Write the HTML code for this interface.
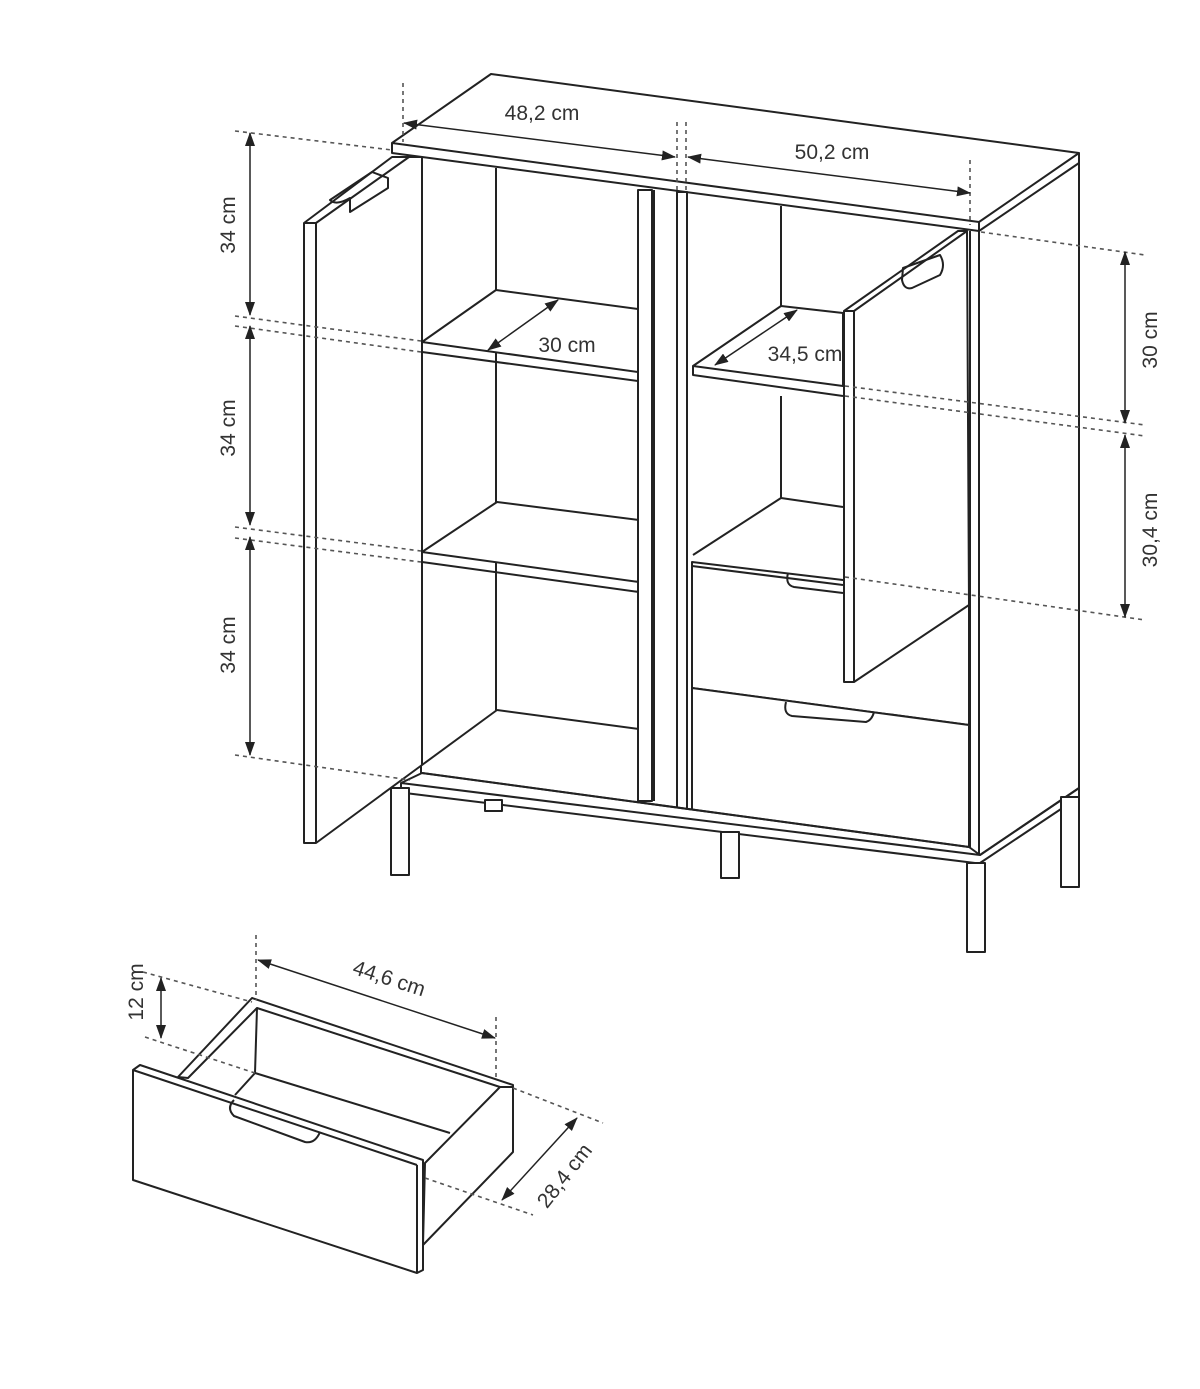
<!DOCTYPE html>
<html><head><meta charset="utf-8"><style>
html,body{margin:0;padding:0;background:#fff;}
svg{display:block;}
.l{stroke:#222;stroke-width:2;fill:none;stroke-linejoin:round;}
.f{stroke:#222;stroke-width:2;fill:#fff;stroke-linejoin:round;}
.d{stroke:#555;stroke-width:1.6;fill:none;stroke-dasharray:4 4;}
.a{stroke:#222;stroke-width:1.5;fill:none;marker-start:url(#ah);marker-end:url(#ah);}
text{font-family:"Liberation Sans",sans-serif;font-size:21px;fill:#333;}
</style></head><body>
<svg width="1200" height="1389" viewBox="0 0 1200 1389" xmlns="http://www.w3.org/2000/svg">
<defs><marker id="ah" markerWidth="14" markerHeight="10" refX="13" refY="5" orient="auto-start-reverse" markerUnits="userSpaceOnUse"><path d="M0,0 L14,5 L0,10 z" fill="#222"/></marker></defs>

<!-- top -->
<polygon class="f" points="392,143 491,74 1079,153 979,222"/>
<polyline class="l" points="392,143 392,153 979,231 979,222"/>
<polyline class="l" points="979,231 1079,163 1079,153"/>
<!-- right side -->
<line class="l" x1="979" y1="231" x2="979" y2="855"/>
<line class="l" x1="970" y1="231" x2="970" y2="850"/>
<line class="l" x1="1079" y1="163" x2="1079" y2="790"/>
<!-- left inner side -->
<line class="l" x1="421" y1="157" x2="421" y2="773"/>
<line class="l" x1="496" y1="168" x2="496" y2="710"/>
<!-- left shelves -->
<polygon class="f" points="496,290 638,309 638,372 422,342"/>
<polyline class="l" points="422,342 422,352 638,381"/>
<polygon class="f" points="497,502 639,520 639,582 422,552"/>
<polyline class="l" points="422,552 422,562 639,592"/>
<polyline class="l" points="497,710 639,729"/>
<polyline class="l" points="497,710 422,765"/>
<!-- center stiles -->
<rect class="f" x="638" y="190" width="14" height="611"/>
<line class="l" x1="654" y1="190" x2="654" y2="801"/>
<rect class="f" x="677" y="192" width="10" height="621"/>
<!-- right compartment -->
<line class="l" x1="781" y1="206" x2="781" y2="306"/>
<line class="l" x1="781" y1="396" x2="781" y2="498"/>
<polygon class="f" points="781,306 843,313 843,386 693,366"/>
<polyline class="l" points="693,366 693,375 843,396"/>
<polyline class="l" points="781,498 843,507"/>
<polyline class="l" points="781,498 693,555"/>
<!-- drawers -->
<polygon class="f" points="692,562 843,580 969,598 969,725 692,688"/>
<line class="l" x1="692" y1="566" x2="843" y2="585"/>
<polygon class="f" points="692,688 969,725 969,848 692,812"/>
<path class="l" d="M788,573 q-3,12 6,14 L843,593"/>
<path class="l" d="M786,702 q-3,12 6,14 L866,722 q6,-2 8,-10"/>
<!-- right door -->
<polygon class="f" points="844,311 958,231 967,231 969,605 854,682 844,682"/>
<line class="l" x1="854" y1="311" x2="854" y2="682"/>
<line class="l" x1="844" y1="311" x2="854" y2="311"/>
<line class="l" x1="854" y1="311" x2="967" y2="231"/>
<path class="l" d="M903,268 L940,255 q6,10 0,20 L912,288 q-8,2 -10,-8 z"/>
<!-- base frame -->
<polygon class="f" points="401,783 422,773 969,847 980,855 1079,788 1079,797 980,863 975,863 405,793 401,788"/>
<line class="l" x1="422" y1="773" x2="969" y2="847"/>
<line class="l" x1="401" y1="783" x2="980" y2="855"/>
<line class="l" x1="980" y1="855" x2="1079" y2="788"/>
<!-- legs -->
<rect class="f" x="391" y="788" width="18" height="87"/>
<rect class="f" x="721" y="832" width="18" height="46"/>
<rect class="f" x="967" y="863" width="18" height="89"/>
<rect class="f" x="1061" y="797" width="18" height="90"/>
<rect class="f" x="485" y="800" width="17" height="11"/>
<!-- left door -->
<polygon class="f" points="304,223 392,157 409,157 422,157 422,765 316,843 304,843"/>
<line class="l" x1="316" y1="223" x2="316" y2="843"/>
<line class="l" x1="304" y1="223" x2="316" y2="223"/>
<line class="l" x1="316" y1="223" x2="409" y2="157"/>
<path class="l" d="M330,200 L372,172 L388,178 L388,188 L350,212 L350,198 q-14,8 -20,2 z"/>

<!-- dimension dashed lines -->
<line class="d" x1="403" y1="83" x2="403" y2="142"/>
<line class="d" x1="677" y1="122" x2="677" y2="192"/>
<line class="d" x1="686" y1="122" x2="686" y2="192"/>
<line class="d" x1="970" y1="160" x2="970" y2="225"/>
<line class="d" x1="235" y1="131" x2="392" y2="150"/>
<line class="d" x1="235" y1="316" x2="421" y2="341"/>
<line class="d" x1="235" y1="326" x2="421" y2="352"/>
<line class="d" x1="235" y1="527" x2="421" y2="551"/>
<line class="d" x1="235" y1="538" x2="421" y2="562"/>
<line class="d" x1="235" y1="755" x2="410" y2="780"/>
<line class="d" x1="981" y1="232" x2="1145" y2="255"/>
<line class="d" x1="845" y1="386" x2="1145" y2="425"/>
<line class="d" x1="845" y1="396" x2="1145" y2="436"/>
<line class="d" x1="845" y1="577" x2="1145" y2="620"/>
<!-- arrows -->
<line class="a" x1="404" y1="123" x2="675" y2="157"/>
<line class="a" x1="688" y1="157" x2="970" y2="193"/>
<line class="a" x1="250" y1="133" x2="250" y2="315"/>
<line class="a" x1="250" y1="326" x2="250" y2="525"/>
<line class="a" x1="250" y1="537" x2="250" y2="755"/>
<line class="a" x1="1125" y1="252" x2="1125" y2="423"/>
<line class="a" x1="1125" y1="435" x2="1125" y2="617"/>
<line class="a" x1="488" y1="350" x2="558" y2="300"/>
<line class="a" x1="715" y1="365" x2="797" y2="310"/>
<text x="542" y="120" text-anchor="middle">48,2 cm</text>
<text x="832" y="159" text-anchor="middle">50,2 cm</text>
<text x="567" y="352" text-anchor="middle">30 cm</text>
<text x="805" y="361" text-anchor="middle">34,5 cm</text>
<text transform="translate(235,225) rotate(-90)" text-anchor="middle">34 cm</text>
<text transform="translate(235,428) rotate(-90)" text-anchor="middle">34 cm</text>
<text transform="translate(235,645) rotate(-90)" text-anchor="middle">34 cm</text>
<text transform="translate(1157,340) rotate(-90)" text-anchor="middle">30 cm</text>
<text transform="translate(1157,530) rotate(-90)" text-anchor="middle">30,4 cm</text>

<!-- drawer -->
<polygon class="f" points="252,998 513,1085 513,1152 423,1245 425,1163 500,1087 257,1008 188,1078 178,1077"/>
<line class="l" x1="257" y1="1008" x2="255" y2="1073"/>
<line class="l" x1="255" y1="1073" x2="450" y2="1133"/>
<line class="l" x1="255" y1="1073" x2="235" y2="1095"/>
<line class="l" x1="500" y1="1087" x2="513" y2="1087"/>
<polygon class="f" points="133,1070 140,1065 423,1160 423,1270 417,1273 133,1180"/>
<line class="l" x1="133" y1="1070" x2="417" y2="1165"/>
<line class="l" x1="417" y1="1165" x2="417" y2="1273"/>
<path class="l" d="M234,1100 q-8,8 0,16 L305,1142 q10,2 15,-10"/>
<line class="d" x1="256" y1="935" x2="256" y2="1000"/>
<line class="d" x1="496" y1="1017" x2="496" y2="1080"/>
<line class="d" x1="143" y1="972" x2="252" y2="1002"/>
<line class="d" x1="145" y1="1037" x2="255" y2="1073"/>
<line class="d" x1="513" y1="1088" x2="603" y2="1123"/>
<line class="d" x1="425" y1="1178" x2="533" y2="1215"/>
<line class="a" x1="258" y1="960" x2="495" y2="1038"/>
<line class="a" x1="161" y1="978" x2="161" y2="1038"/>
<line class="a" x1="577" y1="1118" x2="502" y2="1200"/>
<text transform="translate(387,985) rotate(18)" text-anchor="middle">44,6 cm</text>
<text transform="translate(143,992) rotate(-90)" text-anchor="middle">12 cm</text>
<text transform="translate(570,1180) rotate(-52)" text-anchor="middle">28,4 cm</text>
</svg>
</body></html>
